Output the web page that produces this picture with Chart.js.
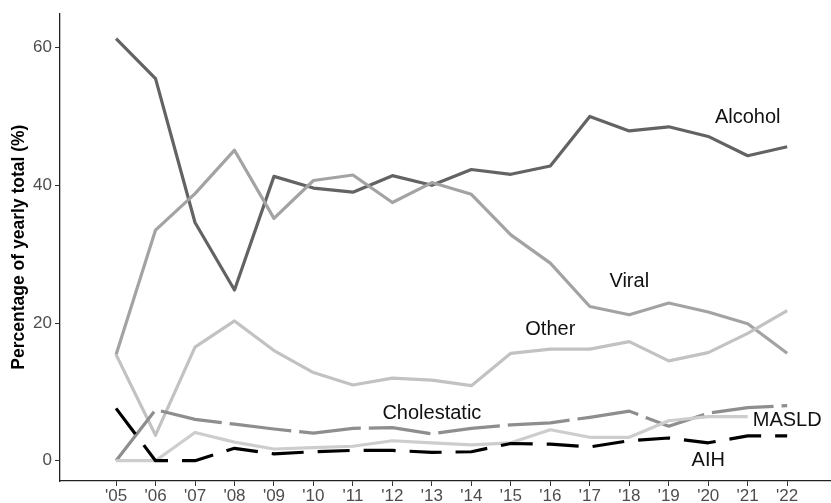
<!DOCTYPE html>
<html>
<head>
<meta charset="utf-8">
<script src="https://cdn.jsdelivr.net/npm/chart.js@4.4.1/dist/chart.umd.min.js"></script>
<style>
  html, body { margin: 0; padding: 0; background: #fff; }
  #wrap { width: 831px; height: 503px; position: relative; }
</style>
</head>
<body>
<div id="wrap"><canvas id="chart"></canvas></div>
<script>
// years on the x axis
const years = [2005, 2006, 2007, 2008, 2009, 2010, 2011, 2012, 2013, 2014, 2015, 2016, 2017, 2018, 2019, 2020, 2021, 2022];

// percentage of yearly total per aetiology
const alcohol     = [61.3, 55.5, 34.6, 24.8, 41.3, 39.6, 39.0, 41.4, 40.0, 42.3, 41.6, 42.8, 50.0, 47.9, 48.5, 47.1, 44.3, 45.6];
const viral       = [15.4, 33.5, 38.8, 45.1, 35.2, 40.7, 41.5, 37.5, 40.4, 38.7, 32.8, 28.7, 22.4, 21.2, 22.9, 21.6, 19.9, 15.6];
const other       = [15.4, 3.7, 16.5, 20.3, 16.0, 12.8, 11.0, 12.0, 11.7, 10.9, 15.6, 16.2, 16.2, 17.3, 14.5, 15.7, 18.5, 21.8];
const cholestatic = [0, 7.4, 6.0, 5.3, 4.6, 4.0, 4.7, 4.8, 3.9, 4.7, 5.2, 5.5, 6.3, 7.2, 5.0, 6.9, 7.7, 8.0];
const masld       = [0, 0, 4.1, 2.7, 1.7, 1.9, 2.1, 2.9, 2.6, 2.3, 2.6, 4.5, 3.4, 3.4, 5.8, 6.4, 6.4, null];
const aih         = [7.6, 0, 0, 1.8, 1.0, 1.3, 1.5, 1.5, 1.2, 1.3, 2.5, 2.4, 2.0, 2.9, 3.3, 2.6, 3.6, 3.6];

const yTicks = [0, 20, 40, 60];

// direct labels: text, year, value
const seriesLabels = [
  ["Alcohol", 2021.0, 49.8],
  ["Viral", 2018.0, 26.0],
  ["Other", 2016.0, 19.0],
  ["Cholestatic", 2013.0, 6.9],
  ["MASLD", 2022.0, 5.9],
  ["AIH", 2020.0, 0.1]
];

const FONT = "'Liberation Sans', Arial, sans-serif";
const toPoints = arr => arr.map((v, i) => ({ x: years[i], y: v }));

function line(label, data, color, dash, order) {
  return {
    label,
    data: toPoints(data),
    borderColor: color,
    borderWidth: 3.2,
    borderDash: dash,
    borderCapStyle: "butt",
    borderJoinStyle: "round",
    pointRadius: 0,
    tension: 0,
    fill: false,
    spanGaps: false,
    order
  };
}

// draw the series names next to the lines
const labelPlugin = {
  id: "seriesLabels",
  afterDatasetsDraw(chart) {
    const ctx = chart.ctx;
    const xs = chart.scales.x, ys = chart.scales.y;
    ctx.save();
    ctx.font = "20px " + FONT;
    ctx.fillStyle = "#111";
    ctx.textAlign = "center";
    ctx.textBaseline = "middle";
    seriesLabels.forEach(([text, x, y]) => {
      ctx.fillText(text, xs.getPixelForValue(x), ys.getPixelForValue(y));
    });
    ctx.restore();
  }
};

const ctx = document.getElementById("chart").getContext("2d");
new Chart(ctx, {
  type: "line",
  data: {
    datasets: [
      line("AIH", aih, "#000000", [32, 14], 0),
      line("MASLD", masld, "#cdcdcd", [], 1),
      line("Cholestatic", cholestatic, "#8e8e8e", [62, 8], 2),
      line("Other", other, "#c2c2c2", [], 3),
      line("Viral", viral, "#a3a3a3", [], 4),
      line("Alcohol", alcohol, "#636363", [], 5)
    ]
  },
  options: {
    responsive: true,
    maintainAspectRatio: false,
    animation: false,
    layout: { padding: { top: 13, right: 0, left: 0, bottom: 0 } },
    plugins: { legend: { display: false }, tooltip: { enabled: false } },
    scales: {
      x: {
        type: "linear",
        min: 2003.58,
        max: 2023.11,
        afterBuildTicks: s => { s.ticks = years.map(v => ({ value: v })); },
        afterFit: s => { s.height = 22; },
        grid: { drawOnChartArea: false, tickLength: 5, tickColor: "#333", tickWidth: 1 },
        border: { color: "#222", width: 1.3 },
        ticks: {
          color: "#4d4d4d",
          padding: 0,
          maxRotation: 0,
          autoSkip: false,
          font: { family: FONT, size: 17 },
          callback: v => "'" + String(v).slice(2)
        }
      },
      y: {
        min: -2.95,
        max: 65,
        afterBuildTicks: s => { s.ticks = yTicks.map(v => ({ value: v })); },
        afterFit: s => { s.width = 60; },
        grid: { drawOnChartArea: false, tickLength: 5, tickColor: "#333", tickWidth: 1 },
        border: { color: "#222", width: 1.3 },
        title: {
          display: true,
          text: "Percentage of yearly total (%)",
          color: "#000",
          padding: { top: 9, bottom: 0 },
          font: { family: FONT, size: 17.5, weight: "bold" }
        },
        ticks: {
          color: "#4d4d4d",
          padding: 3,
          font: { family: FONT, size: 17 }
        }
      }
    }
  },
  plugins: [labelPlugin]
});
</script>
</body>
</html>
